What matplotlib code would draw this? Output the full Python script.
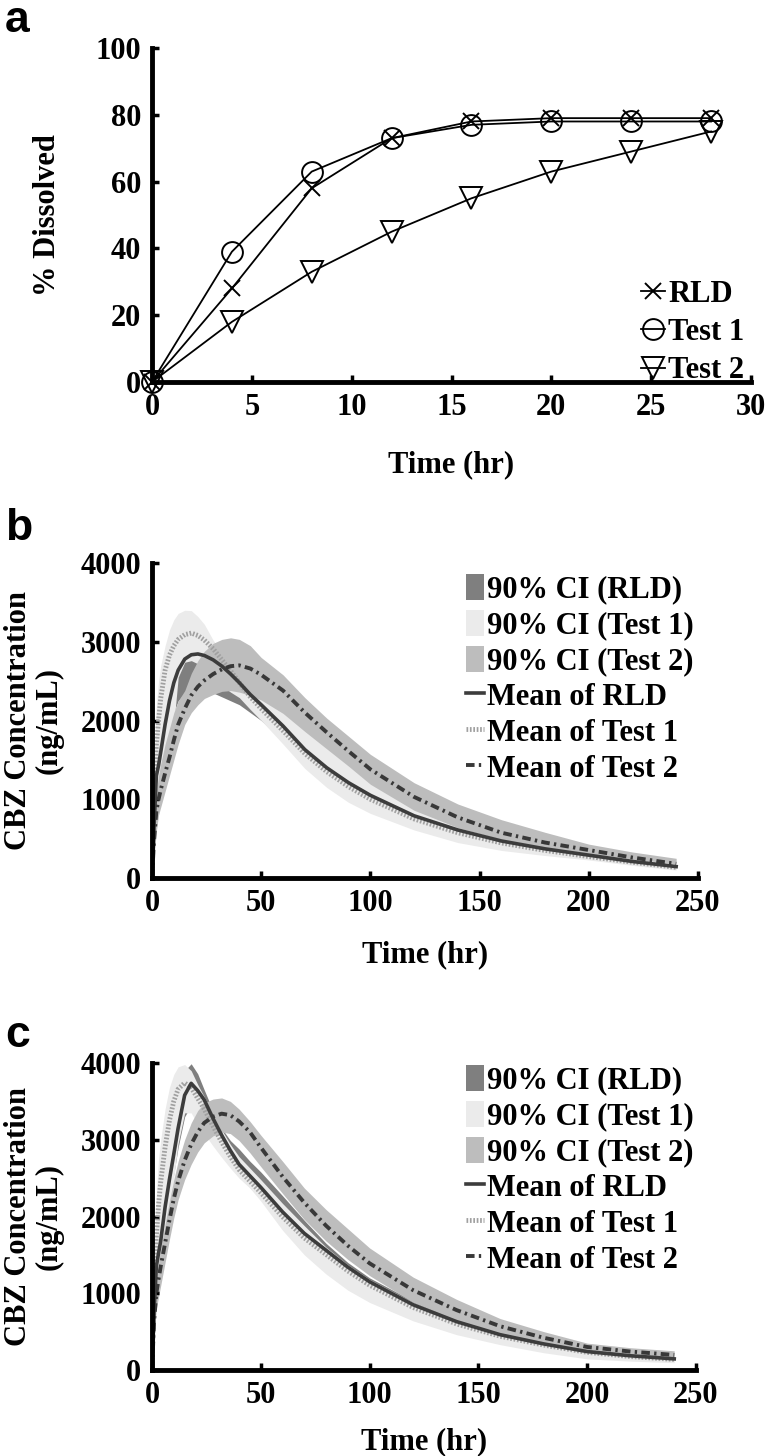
import matplotlib
matplotlib.use("Agg")
import matplotlib.pyplot as plt

# ---- panel a: dissolution profiles ----
diss_time = [0, 4, 8, 12, 16, 20, 24, 28]
diss_rld = [0, 28, 58, 73, 78, 79, 79, 79]
diss_test1 = [0, 39, 63, 73, 77, 78, 78, 78]
diss_test2 = [0, 18, 33, 45, 55, 63, 69, 75]

# ---- panels b and c: simulated plasma profiles (ng/mL) ----
pk_time = [0, 1, 2, 3, 4, 6, 8, 10, 12, 15, 18, 21, 24, 28, 32, 36, 40, 45, 50,
           60, 70, 80, 90, 100, 120, 140, 160, 180, 200, 220, 240]

b_rld_mean = [0, 700, 1300, 1430, 1600, 1950, 2250, 2480, 2640, 2780, 2835, 2845, 2825, 2770, 2690, 2590,
              2480, 2330, 2200, 1930, 1630, 1400, 1210, 1050, 790, 610, 470, 370, 290, 210, 145]
b_rld_lo = [0, 500, 1000, 1200, 1350, 1650, 1900, 2100, 2250, 2350, 2400, 2400, 2380, 2350, 2300, 2250,
            2200, 2100, 2000, 1750, 1480, 1250, 1060, 900, 680, 520, 400, 310, 240, 180, 130]
b_rld_hi = [0, 800, 1400, 1550, 1700, 2050, 2350, 2550, 2700, 2800, 2840, 2840, 2800, 2740, 2650, 2560,
            2460, 2330, 2200, 1930, 1660, 1430, 1240, 1080, 820, 630, 490, 385, 300, 230, 170]
b_t1_mean = [0, 1100, 1700, 2000, 2280, 2640, 2830, 2950, 3030, 3090, 3110, 3080, 3020, 2910, 2770, 2630,
             2480, 2300, 2150, 1870, 1580, 1350, 1160, 1000, 750, 575, 445, 350, 272, 200, 135]
b_t1_lo = [0, 300, 600, 850, 1050, 1350, 1500, 1950, 2550, 2740, 2760, 2720, 2640, 2520, 2440, 2360,
           2290, 2140, 2000, 1700, 1390, 1150, 960, 820, 610, 450, 350, 285, 229, 160, 100]
b_t1_hi = [0, 1500, 2200, 2500, 2700, 2950, 3150, 3280, 3360, 3400, 3395, 3320, 3220, 3020, 2870, 2720,
           2600, 2480, 2380, 2200, 1950, 1720, 1500, 1300, 960, 720, 560, 440, 340, 260, 190]
b_t2_mean = [0, 500, 850, 1000, 1120, 1330, 1530, 1750, 1950, 2150, 2320, 2430, 2510, 2590, 2650, 2690,
             2700, 2660, 2580, 2380, 2100, 1850, 1610, 1380, 1030, 770, 575, 450, 355, 260, 180]
b_t2_lo = [0, 300, 600, 800, 900, 1100, 1300, 1500, 1700, 1950, 2100, 2200, 2280, 2330, 2370, 2380,
           2360, 2320, 2260, 2090, 1860, 1640, 1420, 1190, 860, 640, 490, 390, 310, 240, 180]
b_t2_hi = [0, 700, 1100, 1300, 1450, 1700, 1900, 2100, 2250, 2380, 2600, 2760, 2880, 2980, 3030, 3050,
           3030, 2950, 2800, 2580, 2290, 2030, 1800, 1570, 1210, 940, 740, 580, 430, 330, 250]

c_rld_mean = [0, 800, 1350, 1520, 1680, 2120, 2480, 2810, 3150, 3580, 3735, 3640, 3520, 3280, 3060, 2860,
              2680, 2530, 2380, 2060, 1780, 1560, 1340, 1150, 850, 630, 460, 340, 240, 185, 145]
c_rld_lo = [0, 600, 1150, 1300, 1450, 1850, 2200, 2550, 2900, 3300, 3450, 3400, 3250, 3050, 2870, 2700,
            2550, 2380, 2230, 1920, 1640, 1420, 1220, 1060, 800, 590, 430, 320, 225, 170, 135]
c_rld_hi = [0, 1000, 1550, 1750, 1950, 2400, 2800, 3200, 3550, 3900, 3990, 3860, 3650, 3380, 3150, 2990,
            2880, 2720, 2580, 2270, 1950, 1650, 1400, 1200, 900, 670, 490, 365, 260, 200, 158]
c_t1_mean = [0, 1100, 1750, 2150, 2450, 2900, 3250, 3500, 3660, 3740, 3680, 3540, 3400, 3180, 2970, 2780,
             2610, 2460, 2310, 1995, 1720, 1505, 1290, 1105, 815, 600, 440, 325, 230, 175, 138]
c_t1_lo = [0, 500, 900, 1150, 1350, 1750, 2100, 2500, 2950, 3350, 3350, 3200, 3080, 2920, 2770, 2630,
           2500, 2370, 2200, 1820, 1500, 1250, 1040, 880, 640, 460, 330, 225, 145, 115, 95]
c_t1_hi = [0, 1500, 2300, 2750, 3000, 3400, 3680, 3850, 3950, 3980, 3900, 3720, 3560, 3340, 3130, 2940,
           2780, 2630, 2480, 2170, 1880, 1600, 1370, 1180, 880, 650, 475, 355, 250, 190, 150]
c_t2_mean = [0, 650, 1000, 1180, 1350, 1650, 1950, 2230, 2460, 2730, 2940, 3100, 3220, 3300, 3340, 3320,
             3240, 3100, 2900, 2520, 2180, 1880, 1620, 1390, 1040, 780, 570, 420, 300, 240, 196]
c_t2_lo = [0, 450, 800, 950, 1100, 1400, 1700, 1980, 2220, 2480, 2680, 2840, 2960, 3050, 3100, 3080,
           2990, 2830, 2650, 2300, 1960, 1680, 1440, 1230, 880, 650, 480, 360, 260, 200, 150]
c_t2_hi = [0, 800, 1200, 1400, 1580, 1900, 2200, 2480, 2720, 3000, 3220, 3380, 3480, 3530, 3545, 3500,
           3400, 3240, 3060, 2720, 2370, 2090, 1840, 1590, 1210, 920, 670, 500, 350, 290, 250]

band_labels = ['90% CI (RLD)', '90% CI (Test 1)', '90% CI (Test 2)']
mean_labels = ['Mean of RLD', 'Mean of Test 1', 'Mean of Test 2']

W, H = 767, 1456
plt.rcParams['font.family'] = ['Liberation Serif', 'DejaVu Serif']
plt.rcParams['font.weight'] = 'bold'
plt.rcParams['axes.labelweight'] = 'bold'
FS = 22


def px_axes(fig, left, top, right, bottom):
    return fig.add_axes([left / W, 1 - bottom / H, (right - left) / W, (bottom - top) / H])


def style_axes(ax):
    for s in ['top', 'right']:
        ax.spines[s].set_visible(False)
    for s in ['left', 'bottom']:
        ax.spines[s].set_linewidth(3.5)
    ax.tick_params(direction='in', length=5, width=2.5, labelsize=FS, pad=8)


fig = plt.figure(figsize=(W / 100, H / 100), dpi=100)

# ---------- a ----------
ax = px_axes(fig, 152, 48, 751, 382)
style_axes(ax)
kw = dict(color='black', lw=1.3, mew=1.4, mfc='none', clip_on=False)
ax.plot(diss_time, diss_rld, marker='x', ms=11, label='RLD', **kw)
ax.plot(diss_time, diss_test1, marker='o', ms=15, label='Test 1', **kw)
ax.plot(diss_time, diss_test2, marker='v', ms=16, label='Test 2', **kw)
ax.set_xlim(0, 30)
ax.set_ylim(0, 100)
ax.set_xticks(range(0, 31, 5))
ax.set_yticks(range(0, 101, 20))
ax.set_xlabel('Time (hr)', fontsize=FS, labelpad=20)
ax.set_ylabel('% Dissolved', fontsize=FS, labelpad=24)
ax.legend(loc='upper left', bbox_to_anchor=(641 / W, 1 - 280 / H), bbox_transform=fig.transFigure,
          frameon=False, fontsize=FS, handlelength=0.8, handletextpad=0.1, labelspacing=0.3,
          borderpad=0, borderaxespad=0, numpoints=1)
fig.text(5 / W, 1 - 0 / H, 'a', family='Liberation Sans', weight='bold', fontsize=32, va='top')


# ---------- b, c ----------
def pk_panel(top, bottom, right, rld, t1, t2, letter, letter_top, xpad, leg_top):
    ax = px_axes(fig, 152, top, right, bottom)
    style_axes(ax)
    f1 = ax.fill_between(pk_time, rld[1], rld[2], color='#7f7f7f', lw=0)
    f2 = ax.fill_between(pk_time, t1[1], t1[2], color='#ebebeb', lw=0)
    f3 = ax.fill_between(pk_time, t2[1], t2[2], color='#bdbdbd', lw=0)
    l2, = ax.plot(pk_time, t1[0], color='#a0a0a0', lw=3.5, ls=(0, (0.35, 0.35)))
    l1, = ax.plot(pk_time, rld[0], color='#3c3c3c', lw=2.6)
    l3, = ax.plot(pk_time, t2[0], color='#383838', lw=2.8, ls=(0, (2.2, 1.1, 0.6, 1.1)))
    ax.set_xlim(0, 250)
    ax.set_ylim(0, 4000)
    ax.set_xticks(range(0, 251, 50))
    ax.set_yticks(range(0, 4001, 1000))
    ax.set_xlabel('Time (hr)', fontsize=FS, labelpad=xpad)
    ax.set_ylabel('CBZ Concentration\n(ng/mL)', fontsize=FS, labelpad=12, linespacing=1.05)
    ax.legend([f1, f2, f3, l1, l2, l3], band_labels + mean_labels,
              loc='upper left', bbox_to_anchor=(466 / W, 1 - leg_top / H),
              bbox_transform=fig.transFigure, frameon=False,
              fontsize=FS, handlelength=0.6, handleheight=0.95, handletextpad=0.1,
              labelspacing=0.17, borderpad=0, borderaxespad=0)
    fig.text(5 / W, 1 - letter_top / H, letter, family='Liberation Sans', weight='bold',
             fontsize=32, va='top')


pk_panel(563, 878, 698, (b_rld_mean, b_rld_lo, b_rld_hi), (b_t1_mean, b_t1_lo, b_t1_hi),
         (b_t2_mean, b_t2_lo, b_t2_hi), 'b', 508, 16, 574)
pk_panel(1063, 1370, 696, (c_rld_mean, c_rld_lo, c_rld_hi), (c_t1_mean, c_t1_lo, c_t1_hi),
         (c_t2_mean, c_t2_lo, c_t2_hi), 'c', 1015, 12, 1065)

fig.savefig('out.png', dpi=100)
